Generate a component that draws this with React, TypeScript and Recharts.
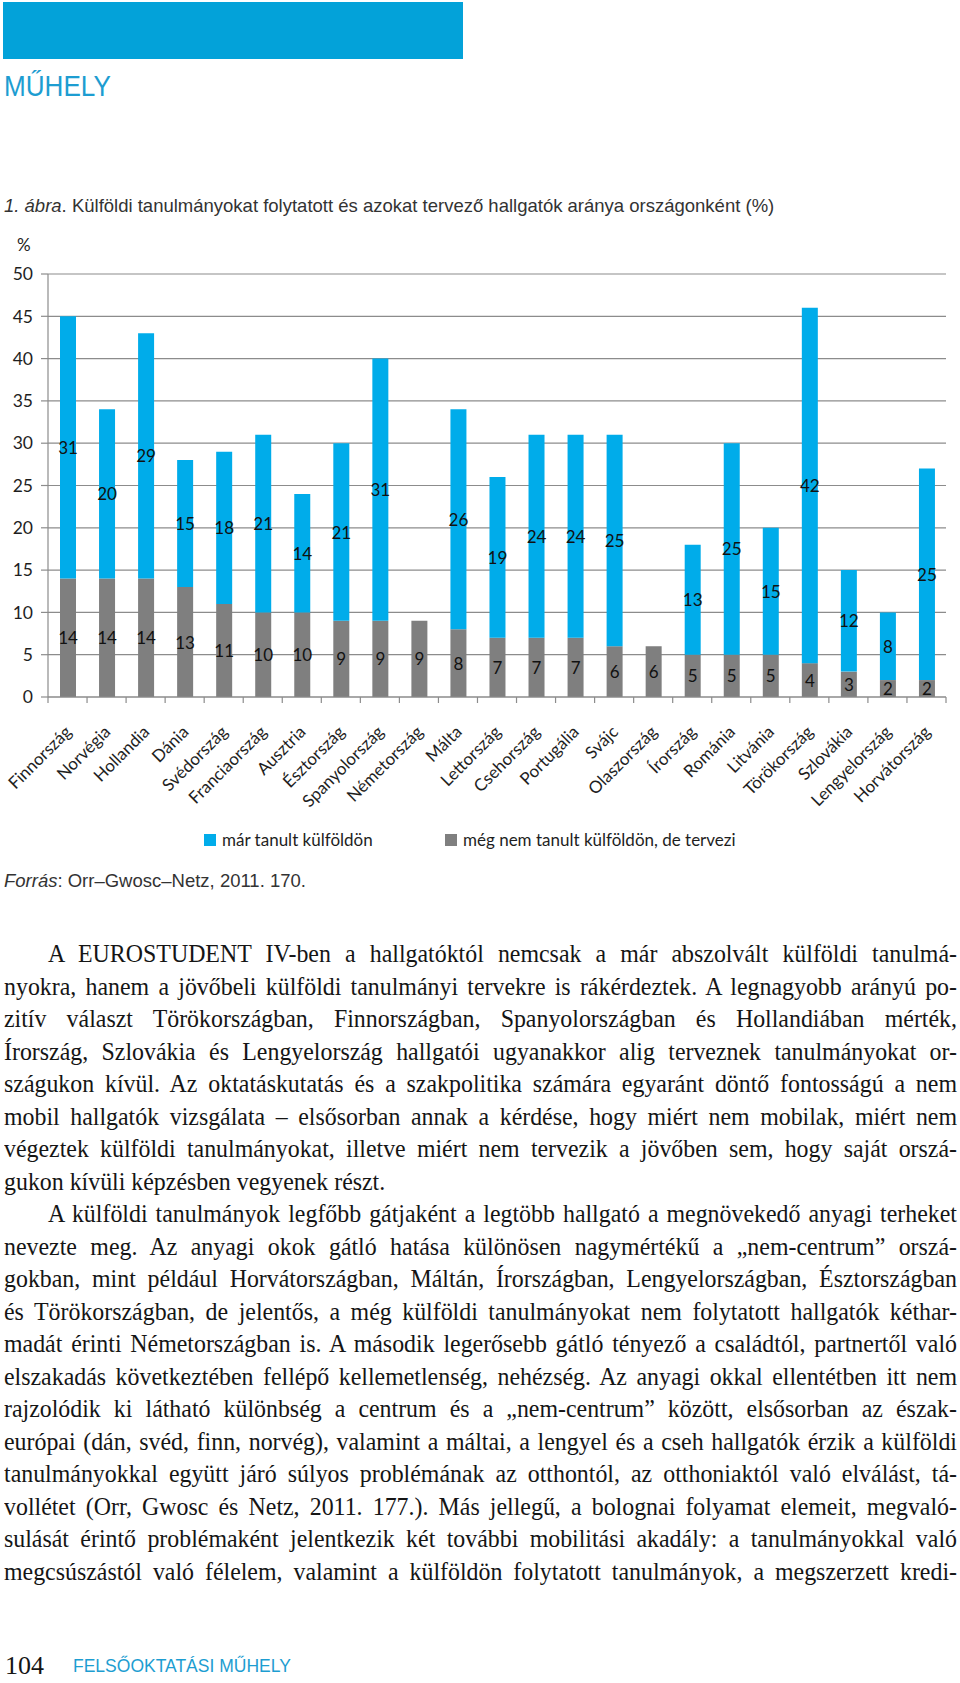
import React from 'react';
import { BarChart, Bar, XAxis, YAxis, CartesianGrid, LabelList } from 'recharts';

// Országonkénti arányok (%), a forrás ábráról leolvasva
const countries = [
  'Finnország', 'Norvégia', 'Hollandia', 'Dánia', 'Svédország', 'Franciaország',
  'Ausztria', 'Észtország', 'Spanyolország', 'Németország', 'Málta', 'Lettország',
  'Csehország', 'Portugália', 'Svájc', 'Olaszország', 'Írország', 'Románia',
  'Litvánia', 'Törökország', 'Szlovákia', 'Lengyelország', 'Horvátország',
];
// még nem tanult külföldön, de tervezi
const planned = [14, 14, 14, 13, 11, 10, 10, 9, 9, 9, 8, 7, 7, 7, 6, 6, 5, 5, 5, 4, 3, 2, 2];
// már tanult külföldön
const studied = [31, 20, 29, 15, 18, 21, 14, 21, 31, null, 26, 19, 24, 24, 25, null, 13, 25, 15, 42, 12, 8, 25];
const yTicks = [0, 5, 10, 15, 20, 25, 30, 35, 40, 45, 50];
const seriesNames = ['már tanult külföldön', 'még nem tanult külföldön, de tervezi'];

const BLUE = '#00acea';
const GRAY = '#7f7f7f';
const GRID = '#8c8c8c';
const CAL = 'Lato, "Open Sans", sans-serif';
const SANS = '"Liberation Sans", Arial, sans-serif';
const SERIF = '"Liberation Serif", "Times New Roman", serif';

const data = countries.map((name, i) => ({ name, planned: planned[i], studied: studied[i] }));

// chart box
const CHART_TOP = 234;
const PLOT_LEFT = 48;
const PLOT_RIGHT = 14;
const PLOT_TOP = 40;
const PLOT_H = 423;
const X_AXIS_H = 130;
const PLOT_W = 960 - PLOT_LEFT - PLOT_RIGHT;
const STEP = PLOT_W / countries.length;

const paragraphs: { lines: string[] }[] = [
  {
    lines: [
      'A EUROSTUDENT IV-ben a hallgatóktól nemcsak a már abszolvált külföldi tanulmá-',
      'nyokra, hanem a jövőbeli külföldi tanulmányi tervekre is rákérdeztek. A legnagyobb arányú po-',
      'zitív választ Törökországban, Finnországban, Spanyolországban és Hollandiában mérték,',
      'Írország, Szlovákia és Lengyelország hallgatói ugyanakkor alig terveznek tanulmányokat or-',
      'szágukon kívül. Az oktatáskutatás és a szakpolitika számára egyaránt döntő fontosságú a nem',
      'mobil hallgatók vizsgálata – elsősorban annak a kérdése, hogy miért nem mobilak, miért nem',
      'végeztek külföldi tanulmányokat, illetve miért nem tervezik a jövőben sem, hogy saját orszá-',
      'gukon kívüli képzésben vegyenek részt.',
    ],
  },
  {
    lines: [
      'A külföldi tanulmányok legfőbb gátjaként a legtöbb hallgató a megnövekedő anyagi terheket',
      'nevezte meg. Az anyagi okok gátló hatása különösen nagymértékű a „nem-centrum” orszá-',
      'gokban, mint például Horvátországban, Máltán, Írországban, Lengyelországban, Észtországban',
      'és Törökországban, de jelentős, a még külföldi tanulmányokat nem folytatott hallgatók kéthar-',
      'madát érinti Németországban is. A második legerősebb gátló tényező a családtól, partnertől való',
      'elszakadás következtében fellépő kellemetlenség, nehézség. Az anyagi okkal ellentétben itt nem',
      'rajzolódik ki látható különbség a centrum és a „nem-centrum” között, elsősorban az észak-',
      'európai (dán, svéd, finn, norvég), valamint a máltai, a lengyel és a cseh hallgatók érzik a külföldi',
      'tanulmányokkal együtt járó súlyos problémának az otthontól, az otthoniaktól való elválást, tá-',
      'vollétet (Orr, Gwosc és Netz, 2011. 177.). Más jellegű, a bolognai folyamat elemeit, megvaló-',
      'sulását érintő problémaként jelentkezik két további mobilitási akadály: a tanulmányokkal való',
      'megcsúszástól való félelem, valamint a külföldön folytatott tanulmányok, a megszerzett kredi-',
    ],
  },
];

function XTick(props: any) {
  const { x, y, payload, index } = props;
  const left = x - STEP / 2;
  return (
    <g>
      <line x1={left} x2={left} y1={y} y2={y + 6} stroke={GRID} strokeWidth={1.2} />
      {index === countries.length - 1 && (
        <line x1={x + STEP / 2} x2={x + STEP / 2} y1={y} y2={y + 6} stroke={GRID} strokeWidth={1.2} />
      )}
      <text
        x={x + 5}
        y={y + 36}
        textAnchor="end"
        transform={`rotate(-45, ${x + 5}, ${y + 36})`}
        fontFamily={CAL}
        fontSize={17}
        fill="#1e1e1e"
      >
        {payload.value}
      </text>
    </g>
  );
}

const renderBarLabel = (props: any) => {
  const vb = props.viewBox ?? props;
  const { x, y, width, height } = vb;
  if (props.value == null || props.value === 0) return null;
  return (
    <text
      x={x + width / 2}
      y={y + height / 2}
      textAnchor="middle"
      dominantBaseline="central"
      fontFamily={CAL}
      fontSize={17}
      fill="#111"
    >
      {props.value}
    </text>
  );
};

const SCALE = 0.955;
const TEXT_W = 953;
const LINE_H = 32.5;

function BodyText() {
  let row = 0;
  return (
    <div style={{ position: 'absolute', left: 4, top: 938, width: TEXT_W }}>
      {paragraphs.map((p, pi) =>
        p.lines.map((line, li) => {
          const last = li === p.lines.length - 1 && pi === 0;
          const top = row * LINE_H;
          row += 1;
          return (
            <div
              key={`${pi}-${li}`}
              style={{
                position: 'absolute',
                left: 0,
                top,
                width: TEXT_W / SCALE,
                height: LINE_H,
                lineHeight: `${LINE_H}px`,
                transform: `scaleX(${SCALE})`,
                transformOrigin: 'left top',
                textAlign: 'justify',
                textAlignLast: last ? 'left' : 'justify',
                paddingLeft: li === 0 ? 44 / SCALE : 0,
                boxSizing: 'border-box',
                fontFamily: SERIF,
                fontSize: 25,
                color: '#151515',
              }}
            >
              {line}
            </div>
          );
        })
      )}
    </div>
  );
}

export default function App() {
  return (
    <div style={{ position: 'absolute', left: 0, top: 0, width: 960, height: 1683, background: '#fff', overflow: 'hidden' }}>
      {/* fejléc */}
      <div style={{ position: 'absolute', left: 3, top: 2, width: 460, height: 57, background: '#03a2d9' }} />
      <div
        style={{
          position: 'absolute', left: 4, top: 71, fontFamily: SANS, fontSize: 30, lineHeight: '30px',
          color: '#1d9dd1', transform: 'scaleX(0.87)', transformOrigin: 'left top', whiteSpace: 'nowrap',
        }}
      >
        MŰHELY
      </div>

      {/* ábracím */}
      <div style={{ position: 'absolute', left: 4, top: 196, fontFamily: SANS, fontSize: 18.5, lineHeight: '20px', color: '#333', whiteSpace: 'nowrap' }}>
        <i>1. ábra</i>. Külföldi tanulmányokat folytatott és azokat tervező hallgatók aránya országonként (%)
      </div>

      <div style={{ position: 'absolute', left: 17, top: 235, fontFamily: CAL, fontSize: 17, lineHeight: '20px', color: '#222' }}>%</div>

      <div style={{ position: 'absolute', left: 0, top: CHART_TOP }}>
        <BarChart
          width={960}
          height={PLOT_TOP + PLOT_H + X_AXIS_H}
          data={data}
          margin={{ top: PLOT_TOP, right: PLOT_RIGHT, bottom: 0, left: 0 }}
          barSize={16}
        >
          <CartesianGrid vertical={false} stroke={GRID} strokeWidth={1.2} />
          <YAxis
            type="number"
            domain={[0, 50]}
            ticks={yTicks}
            interval={0}
            width={PLOT_LEFT}
            tickSize={7}
            tickMargin={8}
            axisLine={{ stroke: GRID, strokeWidth: 1.2 }}
            tickLine={{ stroke: GRID, strokeWidth: 1.2 }}
            tick={{ fontFamily: CAL, fontSize: 17.5, fill: '#1e1e1e' }}
          />
          <XAxis
            dataKey="name"
            interval={0}
            height={X_AXIS_H}
            tickSize={0}
            tickMargin={0}
            tickLine={false}
            axisLine={{ stroke: GRID, strokeWidth: 1.2 }}
            tick={<XTick />}
          />
          <Bar dataKey="planned" stackId="a" fill={GRAY} isAnimationActive={false}>
            <LabelList dataKey="planned" content={renderBarLabel} />
          </Bar>
          <Bar dataKey="studied" stackId="a" fill={BLUE} isAnimationActive={false}>
            <LabelList dataKey="studied" content={renderBarLabel} />
          </Bar>
        </BarChart>
      </div>

      {/* jelmagyarázat */}
      {seriesNames.map((s, i) => (
        <div key={s} style={{ position: 'absolute', left: i === 0 ? 204 : 445, top: 830, display: 'flex', alignItems: 'center', whiteSpace: 'nowrap' }}>
          <span style={{ display: 'inline-block', width: 12, height: 12, background: i === 0 ? BLUE : GRAY, marginRight: 6 }} />
          <span style={{ fontFamily: CAL, fontSize: 17, lineHeight: '20px', color: '#1e1e1e' }}>{s}</span>
        </div>
      ))}

      <div style={{ position: 'absolute', left: 4, top: 871, fontFamily: SANS, fontSize: 18.5, lineHeight: '20px', color: '#333', whiteSpace: 'nowrap' }}>
        <i>Forrás</i>: Orr–Gwosc–Netz, 2011. 170.
      </div>

      <BodyText />

      {/* lábléc */}
      <div style={{ position: 'absolute', left: 5, top: 1651, fontFamily: SERIF, fontSize: 26, lineHeight: '30px', color: '#151515' }}>104</div>
      <div style={{ position: 'absolute', left: 73, top: 1656, fontFamily: SANS, fontSize: 17.5, lineHeight: '20px', color: '#1d9dd1', whiteSpace: 'nowrap' }}>
        FELSŐOKTATÁSI MŰHELY
      </div>
    </div>
  );
}
